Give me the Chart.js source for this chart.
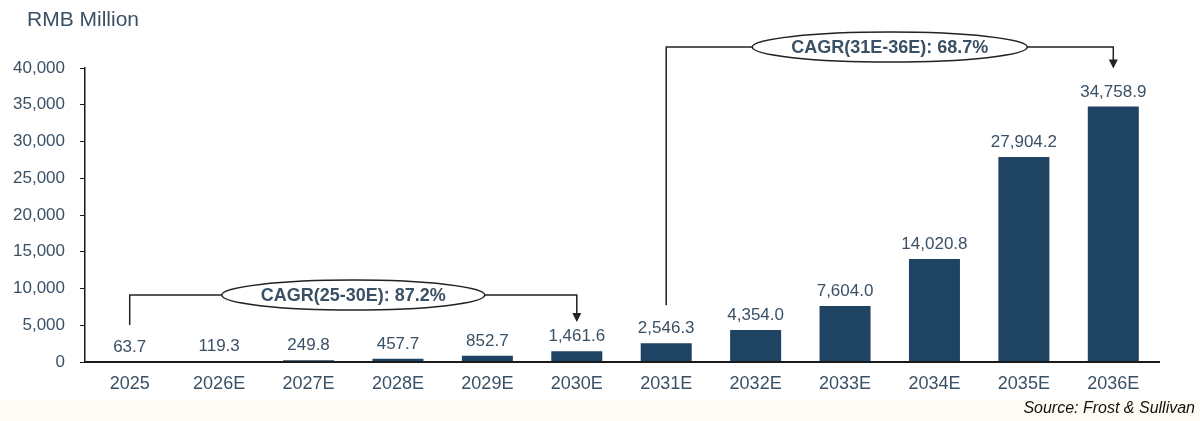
<!DOCTYPE html>
<html>
<head>
<meta charset="utf-8">
<script src="https://cdn.jsdelivr.net/npm/chart.js@4"></script>
<style>
  html, body { margin: 0; padding: 0; background: #ffffff; }
  #wrap { position: relative; width: 1200px; height: 421px; }
</style>
</head>
<body>
<div id="wrap"><canvas id="chart" width="1200" height="421"></canvas></div>
<script>
const years = ["2025", "2026E", "2027E", "2028E", "2029E", "2030E",
  "2031E", "2032E", "2033E", "2034E", "2035E", "2036E"];
const marketSize = [63.7, 119.3, 249.8, 457.7, 852.7, 1461.6,
  2546.3, 4354.0, 7604.0, 14020.8, 27904.2, 34758.9];
const valueLabels = ["63.7", "119.3", "249.8", "457.7", "852.7", "1,461.6",
  "2,546.3", "4,354.0", "7,604.0", "14,020.8", "27,904.2", "34,758.9"];
const yTicks = [0, 5000, 10000, 15000, 20000, 25000, 30000, 35000, 40000];

// CAGR brackets: from index, to index, label, bracket level (value)
const cagrFrom = [0, 6];
const cagrTo = [5, 11];
const cagrText = ["CAGR(25-30E): 87.2%", "CAGR(31E-36E): 68.7%"];
const cagrLevel = [9100, 42850];

const TEXT = "#3a5064";
const BAR = "#1e4363";
const FONT = "'Liberation Sans', Arial, sans-serif";

const labelsPlugin = {
  id: "labels",
  afterDatasetsDraw(chart) {
    const { ctx } = chart;
    const meta = chart.getDatasetMeta(0);
    ctx.save();
    ctx.fillStyle = TEXT;
    ctx.font = "17px " + FONT;
    ctx.textAlign = "center";
    ctx.textBaseline = "bottom";
    meta.data.forEach((bar, i) => {
      ctx.fillText(valueLabels[i], bar.x, bar.y - 6);
    });
    ctx.restore();
  }
};

const extrasPlugin = {
  id: "extras",
  beforeDraw(chart) {
    const { ctx } = chart;
    ctx.save();
    ctx.fillStyle = "#fdfbf3";
    ctx.fillRect(0, 400, chart.width, chart.height - 400);
    ctx.restore();
  },
  afterDraw(chart) {
    const { ctx, chartArea } = chart;
    const xs = chart.scales.x;
    const ys = chart.scales.y;
    ctx.save();

    // x axis line runs a little past the last bar
    ctx.strokeStyle = "#1a1a1a";
    ctx.lineWidth = 2;
    ctx.beginPath();
    ctx.moveTo(chartArea.left, chartArea.bottom);
    ctx.lineTo(chartArea.right + 2, chartArea.bottom);
    ctx.stroke();

    // unit label
    ctx.fillStyle = TEXT;
    ctx.font = "21px " + FONT;
    ctx.textAlign = "left";
    ctx.textBaseline = "middle";
    ctx.fillText("RMB Million", 27, 20);

    // source
    ctx.fillStyle = "#111111";
    ctx.font = "italic 16px " + FONT;
    ctx.textAlign = "right";
    ctx.fillText("Source: Frost & Sullivan", 1195, 409);

    // CAGR brackets
    cagrText.forEach((txt, k) => {
      const x0 = xs.getPixelForValue(cagrFrom[k]);
      const x1 = xs.getPixelForValue(cagrTo[k]);
      const yb = ys.getPixelForValue(cagrLevel[k]);
      const yStart = k === 0 ? chartArea.bottom - 37 : ys.getPixelForValue(marketSize[cagrFrom[k]]) - 38;
      const yEnd = k === 0 ? chartArea.bottom - 40 : ys.getPixelForValue(marketSize[cagrTo[k]]) - 38;

      ctx.font = "bold 18px " + FONT;
      const tw = ctx.measureText(txt).width;
      const cx = (x0 + x1) / 2;
      const rx = tw / 2 + 39;
      const ry = 15;

      ctx.strokeStyle = "#222222";
      ctx.lineWidth = 1.5;
      ctx.beginPath();
      ctx.moveTo(x0, yStart);
      ctx.lineTo(x0, yb);
      ctx.lineTo(cx - rx, yb);
      ctx.moveTo(cx + rx, yb);
      ctx.lineTo(x1, yb);
      ctx.lineTo(x1, yEnd - 6);
      ctx.stroke();

      ctx.fillStyle = "#222222";
      ctx.beginPath();
      ctx.moveTo(x1 - 4.5, yEnd - 9);
      ctx.lineTo(x1 + 4.5, yEnd - 9);
      ctx.lineTo(x1, yEnd);
      ctx.closePath();
      ctx.fill();

      ctx.fillStyle = "#ffffff";
      ctx.beginPath();
      ctx.ellipse(cx, yb, rx, ry, 0, 0, Math.PI * 2);
      ctx.fill();
      ctx.stroke();

      ctx.fillStyle = TEXT;
      ctx.textAlign = "center";
      ctx.textBaseline = "middle";
      ctx.fillText(txt, cx, yb + 1);
    });

    ctx.restore();
  }
};

new Chart(document.getElementById("chart"), {
  type: "bar",
  data: {
    labels: years,
    datasets: [{
      data: marketSize,
      backgroundColor: BAR,
      barPercentage: 0.7,
      categoryPercentage: 0.815
    }]
  },
  options: {
    responsive: false,
    animation: false,
    layout: { padding: { top: 68, right: 42, bottom: 0, left: 0 } },
    plugins: {
      legend: { display: false },
      tooltip: { enabled: false }
    },
    scales: {
      x: {
        grid: { display: false, drawTicks: false },
        border: { display: true, color: "#1a1a1a", width: 2 },
        ticks: {
          color: TEXT,
          font: { family: FONT, size: 18 },
          padding: 11,
          maxRotation: 0
        },
        afterFit(scale) { scale.height = 59; }
      },
      y: {
        min: 0,
        max: 40000,
        grid: { drawOnChartArea: false, drawTicks: true, tickLength: 5, color: "#1a1a1a" },
        border: { display: true, color: "#1a1a1a", width: 1.5 },
        afterBuildTicks(scale) { scale.ticks = yTicks.map((v) => ({ value: v })); },
        ticks: {
          color: TEXT,
          font: { family: FONT, size: 17 },
          padding: 15,
          callback: (value) => value.toLocaleString("en-US")
        },
        afterFit(scale) { scale.width = 85; }
      }
    }
  },
  plugins: [labelsPlugin, extrasPlugin]
});
</script>
</body>
</html>
